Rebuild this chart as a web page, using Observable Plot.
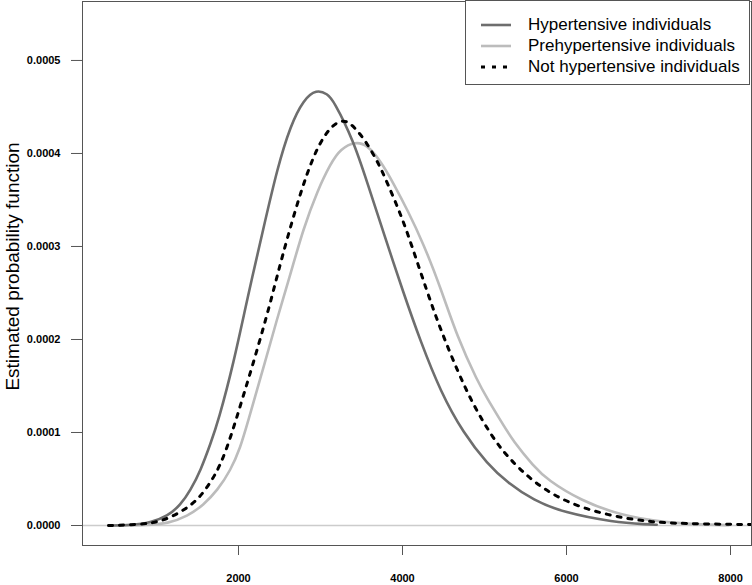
<!DOCTYPE html>
<html>
<head>
<meta charset="utf-8">
<script src="https://cdn.jsdelivr.net/npm/d3@7"></script>
<script src="https://cdn.jsdelivr.net/npm/@observablehq/plot@0.6"></script>
<style>
  body { margin: 0; background: #fff; }
  #wrap { position: relative; width: 752px; height: 585px; }
  .legend { position: absolute; left: 465px; top: 0px; width: 285px; height: 85px; border: 1px solid #555; background: #fff;
            font-family: "Liberation Sans", Arial, sans-serif; font-size: 17px; color: #000; box-sizing: border-box; }
  .row { position: absolute; left: 0; height: 20px; width: 100%; }
  .row svg { position: absolute; left: 14px; top: 7px; }
  .row span { position: absolute; left: 62px; top: 0px; white-space: nowrap; line-height: 20px; }
</style>
</head>
<body>
<div id="wrap"></div>
<script>
// Series names
const seriesNames = ["Hypertensive individuals", "Prehypertensive individuals", "Not hypertensive individuals"];

// Hypertensive (x, density in units of 1e-4)
const hypX = [415, 700, 927, 1134, 1293, 1415, 1537, 1659, 1756, 1939, 2110, 2305, 2476, 2634, 2793, 2951, 3085, 3159, 3402, 3573, 3768, 4012, 4220, 4463, 4744, 5037, 5280, 5598, 5963, 6573, 6988, 7100];
const hypY = [0, 0.005, 0.03, 0.10, 0.22, 0.38, 0.59, 0.88, 1.13, 1.74, 2.45, 3.20, 3.85, 4.30, 4.58, 4.69, 4.64, 4.57, 4.14, 3.68, 3.15, 2.50, 1.98, 1.44, 0.99, 0.66, 0.46, 0.27, 0.14, 0.035, 0.012, 0.008];

// Prehypertensive
const preX = [415, 900, 1134, 1378, 1573, 1744, 1902, 2024, 2110, 2305, 2476, 2610, 2793, 2963, 3122, 3244, 3427, 3573, 3732, 3890, 4061, 4256, 4463, 4671, 4915, 5037, 5195, 5354, 5598, 5768, 6171, 6659, 7183, 7793, 7976];
const preY = [0, 0.005, 0.02, 0.10, 0.22, 0.38, 0.59, 0.84, 1.10, 1.70, 2.24, 2.63, 3.20, 3.60, 3.89, 4.05, 4.13, 4.09, 3.92, 3.68, 3.39, 3.03, 2.56, 2.02, 1.55, 1.36, 1.13, 0.90, 0.64, 0.49, 0.27, 0.11, 0.03, 0.006, 0.004];

// Not hypertensive
const notX = [415, 805, 1049, 1293, 1500, 1659, 1780, 1902, 2061, 2232, 2390, 2476, 2598, 2756, 2915, 3073, 3244, 3366, 3524, 3695, 3817, 3976, 4098, 4305, 4463, 4671, 4866, 5110, 5280, 5598, 6012, 6500, 6988, 7390, 8250];
const notY = [0, 0.01, 0.04, 0.14, 0.27, 0.46, 0.65, 0.94, 1.40, 1.90, 2.40, 2.70, 3.10, 3.58, 3.98, 4.24, 4.37, 4.33, 4.17, 3.92, 3.68, 3.35, 3.05, 2.50, 2.11, 1.66, 1.29, 0.93, 0.74, 0.46, 0.24, 0.11, 0.04, 0.02, 0.01];

// Tick values
const xTicks = [2000, 4000, 6000, 8000];
const yTicks = [0, 0.0001, 0.0002, 0.0003, 0.0004, 0.0005];

const toRows = (xs, ys) => xs.map((x, i) => ({x, y: ys[i] * 1e-4}));
const hyp = toRows(hypX, hypY);
const pre = toRows(preX, preY);
const not = toRows(notX, notY);

const chart = Plot.plot({
  width: 752,
  height: 585,
  marginLeft: 82,
  marginTop: 1,
  marginRight: 1,
  marginBottom: 40,
  x: {domain: [97.6, 8256]},
  y: {domain: [-0.0000215, 0.0005634]},
  style: {fontFamily: "'Liberation Sans', Arial, sans-serif", background: "#fff", color: "#000"},
  marks: [
    Plot.ruleY([0], {stroke: "#cccccc", strokeWidth: 1.5}),
    Plot.line(pre, {x: "x", y: "y", stroke: "#bcbcbc", strokeWidth: 2.6, curve: "basis"}),
    Plot.line(hyp, {x: "x", y: "y", stroke: "#6e6e6e", strokeWidth: 2.6, curve: "basis"}),
    Plot.line(not, {x: "x", y: "y", stroke: "#000", strokeWidth: 3, strokeDasharray: "4,7", curve: "basis"}),
    Plot.frame({stroke: "#555"}),
    Plot.axisY(yTicks, {tickSize: 11, tickPadding: 11, tickFormat: d => d.toFixed(4), fontSize: 11, fontWeight: "bold", stroke: "#555", fill: "#000", label: null}),
    Plot.axisX(xTicks, {tickSize: 10, tickPadding: 19, tickFormat: d3.format("d"), fontSize: 11, fontWeight: "bold", stroke: "#555", fill: "#000", label: null}),
    Plot.text(["Estimated probability function"], {frameAnchor: "left", textAnchor: "middle", dx: -70, dy: -7, rotate: -90, fontSize: 19, fill: "#000"})
  ]
});

const wrap = document.getElementById("wrap");
wrap.appendChild(chart);

// Legend
const legendStyles = [
  {stroke: "#6e6e6e", dash: null, w: 2.6},
  {stroke: "#bcbcbc", dash: null, w: 2.6},
  {stroke: "#000", dash: "4,7", w: 3}
];
const rowCenters = [24, 45, 66];
const legend = document.createElement("div");
legend.className = "legend";
seriesNames.forEach((name, i) => {
  const row = document.createElement("div");
  row.className = "row";
  row.style.top = (rowCenters[i] - 10) + "px";
  const s = legendStyles[i];
  row.innerHTML = `<svg width="32" height="6"><line x1="1" x2="31" y1="3" y2="3" stroke="${s.stroke}" stroke-width="${s.w}" ${s.dash ? `stroke-dasharray="${s.dash}"` : ""}/></svg><span>${name}</span>`;
  legend.appendChild(row);
});
wrap.appendChild(legend);
</script>
</body>
</html>
